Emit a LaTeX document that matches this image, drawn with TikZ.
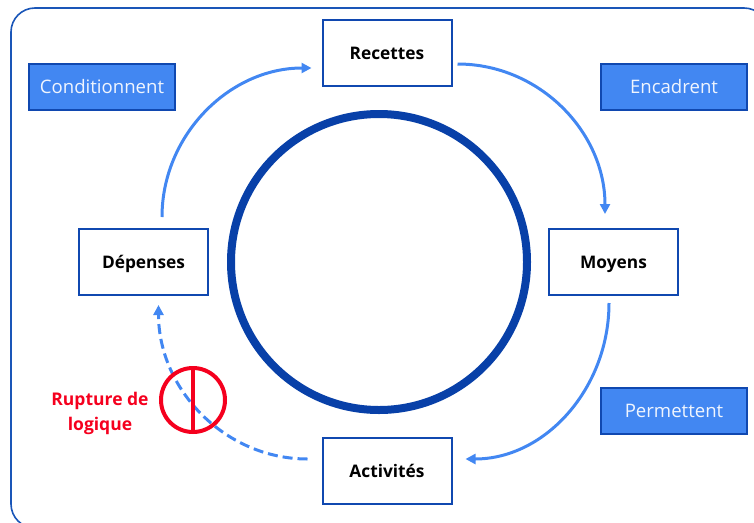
\documentclass[tikz,border=0pt]{standalone}
\usepackage{fontspec}
\setmainfont{Open Sans}
\usetikzlibrary{arrows.meta}
\definecolor{frameblue}{HTML}{1A56B8}
\definecolor{boxedge}{HTML}{1048B0}
\definecolor{darkring}{HTML}{0840A8}
\definecolor{lightblue}{HTML}{4287F2}
\definecolor{brk}{HTML}{F5001E}
\tikzset{
  stagebox/.style={draw=boxedge,line width=2pt,fill=white,minimum width=129pt,minimum height=66pt,inner sep=0pt,font=\fontsize{17.3}{20}\selectfont\bfseries,text=black,text height=16pt,text depth=3pt},
  tagbox/.style={draw=boxedge,line width=2pt,fill=lightblue,minimum width=146pt,minimum height=46pt,inner sep=0pt,font=\fontsize{18.6}{22}\selectfont,text=white!92!lightblue},
  flow/.style={draw=lightblue,line width=3pt,-{Triangle[length=10pt,width=10pt]}},
}
\begin{document}
\begin{tikzpicture}[x=1pt,y=-1pt]
\useasboundingbox (0,0) rectangle (754,522);
\clip (0,0) rectangle (754,522);
\draw[frameblue,line width=1.6pt,rounded corners=24pt] (11,8) rectangle (768,528);
\node[draw=darkring,line width=8pt,circle,minimum size=296pt,inner sep=0pt] (ring) at (379,262) {};
\node[stagebox] (recettes) at (387,53) {Recettes};
\node[stagebox] (moyens) at (613.5,262) {Moyens};
\node[stagebox] (activites) at (387,470.5) {Activités};
\node[stagebox] (depenses) at (143.5,262) {Dépenses};
\node[tagbox] (cond) at (102,87) {Conditionnent};
\node[tagbox] (enc) at (674,87) {Encadrent};
\node[tagbox] (perm) at (674,411) {Permettent};
\draw[flow] ([shift={(5,11)}]recettes.east) .. controls +(82,0) and +(0,-82) .. ([shift={(-8.5,-14)}]moyens.north);
\draw[flow] ([shift={(-4.5,7)}]moyens.south) .. controls +(0,85) and +(80,0) .. ([shift={(13,-11.5)}]activites.east);
\draw[flow] ([shift={(18.5,-11)}]depenses.north) .. controls +(0,-82) and +(-82,0) .. ([shift={(-10,15)}]recettes.west);
\draw[flow,dash pattern=on 10pt off 5pt] ([shift={(-14,-11.5)}]activites.west) .. controls +(-82,0) and +(0,85) .. ([shift={(15,9)}]depenses.south);
\node[draw=brk,line width=4pt,circle,minimum size=64pt,inner sep=0pt] (stop) at (193,400) {};
\draw[brk,line width=4pt] (stop.north) -- (stop.south);
\node[align=center,text=brk,font=\fontsize{17.5}{25}\selectfont\bfseries,inner sep=0pt] (rupt) at (100,413) {Rupture de\\logique};
\end{tikzpicture}
\end{document}
